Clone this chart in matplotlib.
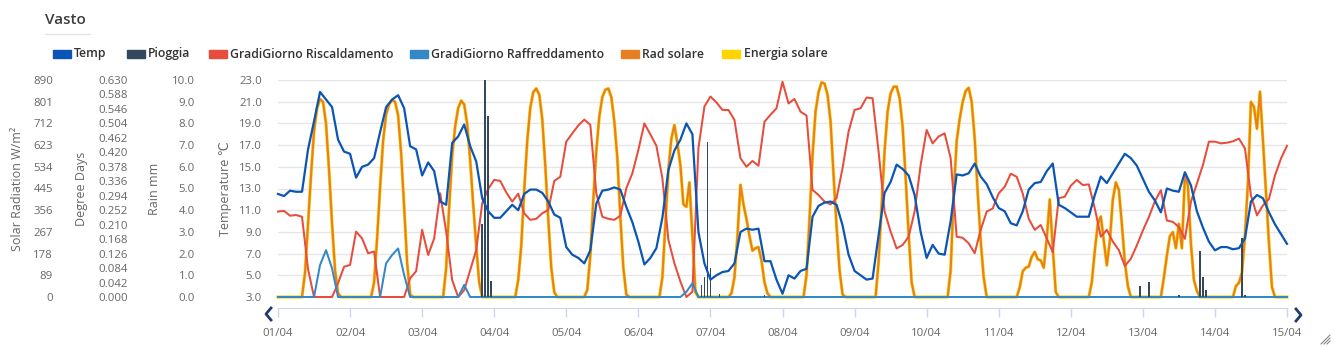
import numpy as np
import matplotlib
matplotlib.use('Agg')
import matplotlib.pyplot as plt
from matplotlib.patches import Rectangle
from matplotlib.lines import Line2D

plt.rcParams['font.family'] = ['Open Sans', 'DejaVu Sans']

# ---------------- data (hours since 01/04 00:00) ----------------
hours = np.arange(0, 337, 2)        # temperature / degree-day readings every 2 h
hours_sol = np.arange(0, 337, 1)    # solar readings every hour
day_labels = ['01/04', '02/04', '03/04', '04/04', '05/04', '06/04', '07/04', '08/04',
              '09/04', '10/04', '11/04', '12/04', '13/04', '14/04', '15/04']

temp = [
    12.5, 12.3, 12.8, 12.7, 12.7, 16.6, 19.2, 21.9, 21.2, 20.5, 17.5, 16.4,
    16.2, 14.0, 15.0, 15.2, 15.8, 18.2, 20.5, 21.2, 21.6, 20.4, 16.9, 16.6,
    14.2, 15.4, 14.6, 11.8, 11.5, 17.2, 17.8, 18.9, 16.9, 15.5, 12.1, 10.9,
    10.3, 10.3, 10.9, 11.5, 11.0, 12.5, 12.9, 12.9, 12.6, 11.8, 10.6, 10.3,
    7.6, 6.9, 6.6, 6.1, 7.3, 11.6, 12.8, 12.9, 13.1, 12.9, 11.3, 9.9,
    8.1, 6.0, 6.6, 7.5, 10.3, 14.7, 16.5, 17.5, 19.0, 18.0, 9.0, 6.1,
    4.6, 5.0, 5.3, 5.4, 6.1, 9.0, 9.3, 9.2, 9.3, 6.3, 6.3, 4.6,
    3.3, 5.0, 4.7, 5.4, 5.6, 10.4, 11.4, 11.7, 11.8, 11.5, 9.6, 6.9,
    5.4, 5.0, 4.6, 4.7, 8.7, 12.6, 13.6, 15.2, 14.8, 14.2, 12.4, 9.0,
    6.6, 7.8, 7.0, 6.9, 10.0, 14.3, 14.2, 14.4, 15.3, 14.1, 13.4, 12.2,
    11.2, 10.9, 9.8, 9.6, 10.9, 12.9, 13.5, 13.6, 14.6, 15.3, 11.5, 11.2,
    10.8, 10.4, 10.4, 10.4, 12.4, 14.1, 13.5, 14.4, 15.3, 16.2, 15.8, 15.1,
    13.9, 12.7, 11.9, 10.8, 13.0, 12.8, 12.7, 14.5, 13.3, 10.9, 9.4, 8.1,
    7.3, 7.6, 7.6, 7.4, 7.5, 8.4, 11.8, 12.4, 12.1, 10.8, 9.7, 8.8,
    7.9,
]

gg_riscaldamento = [
    0.248, 0.250, 0.236, 0.238, 0.233, 0.081, 0, 0, 0, 0, 0.040, 0.088,
    0.093, 0.190, 0.170, 0.127, 0.132, 0, 0, 0, 0, 0, 0.054, 0.075,
    0.195, 0.122, 0.170, 0.301, 0.190, 0.049, 0.0, 0.020, 0.078, 0.136, 0.272, 0.314,
    0.340, 0.337, 0.304, 0.277, 0.300, 0.243, 0.224, 0.227, 0.243, 0.253, 0.337, 0.349,
    0.451, 0.475, 0.498, 0.515, 0.500, 0.301, 0.233, 0.227, 0.224, 0.236, 0.316, 0.359,
    0.427, 0.504, 0.472, 0.439, 0.345, 0.166, 0.098, 0.045, 0.0, 0.015, 0.432, 0.553,
    0.582, 0.565, 0.543, 0.543, 0.514, 0.403, 0.378, 0.395, 0.381, 0.509, 0.529, 0.548,
    0.625, 0.562, 0.575, 0.538, 0.527, 0.311, 0.296, 0.277, 0.269, 0.287, 0.374, 0.480,
    0.543, 0.548, 0.579, 0.577, 0.422, 0.248, 0.190, 0.141, 0.151, 0.175, 0.248, 0.383,
    0.485, 0.446, 0.466, 0.475, 0.403, 0.175, 0.172, 0.156, 0.127, 0.195, 0.248, 0.257,
    0.301, 0.320, 0.358, 0.349, 0.300, 0.227, 0.195, 0.209, 0.170, 0.130, 0.287, 0.291,
    0.323, 0.340, 0.325, 0.327, 0.257, 0.175, 0.195, 0.161, 0.136, 0.090, 0.111, 0.150,
    0.193, 0.232, 0.278, 0.310, 0.222, 0.218, 0.203, 0.169, 0.276, 0.329, 0.383, 0.451,
    0.451, 0.446, 0.448, 0.452, 0.460, 0.431, 0.295, 0.237, 0.266, 0.285, 0.353, 0.402,
    0.439,
]

gg_raffreddamento = [
    0, 0, 0, 0, 0, 0, 0, 0.093, 0.136, 0.083, 0, 0,
    0, 0, 0, 0, 0, 0, 0.098, 0.122, 0.141, 0.064, 0, 0,
    0, 0, 0, 0, 0, 0, 0, 0.035, 0, 0, 0, 0,
    0, 0, 0, 0, 0, 0, 0, 0, 0, 0, 0, 0,
    0, 0, 0, 0, 0, 0, 0, 0, 0, 0, 0, 0,
    0, 0, 0, 0, 0, 0, 0, 0, 0.015, 0.040, 0, 0,
    0, 0, 0, 0, 0, 0, 0, 0, 0, 0, 0, 0,
    0, 0, 0, 0, 0, 0, 0, 0, 0, 0, 0, 0,
    0, 0, 0, 0, 0, 0, 0, 0, 0, 0, 0, 0,
    0, 0, 0, 0, 0, 0, 0, 0, 0, 0, 0, 0,
    0, 0, 0, 0, 0, 0, 0, 0, 0, 0, 0, 0,
    0, 0, 0, 0, 0, 0, 0, 0, 0, 0, 0, 0,
    0, 0, 0, 0, 0, 0, 0, 0, 0, 0, 0, 0,
    0, 0, 0, 0, 0, 0, 0, 0, 0, 0, 0, 0,
    0,
]

# hourly, one row per day (24 values)
rad_solare = [
    0, 0, 0, 0, 0, 0, 0, 0, 0, 100, 300, 500, 680, 775, 812, 800, 710, 520, 300, 110, 15, 0, 0, 0,
    0, 0, 0, 0, 0, 0, 0, 0, 60, 240, 450, 640, 750, 790, 808, 800, 745, 590, 370, 140, 10, 0, 0, 0,
    0, 0, 0, 0, 0, 0, 0, 0, 120, 370, 580, 700, 775, 805, 790, 710, 560, 380, 210, 60, 0, 0, 0, 0,
    0, 0, 0, 0, 0, 0, 0, 0, 70, 210, 440, 640, 775, 840, 855, 830, 730, 540, 320, 120, 20, 0, 0, 0,
    0, 0, 0, 0, 0, 0, 0, 30, 170, 400, 600, 740, 820, 850, 855, 820, 720, 570, 330, 120, 10, 0, 0, 0,
    0, 0, 0, 0, 0, 0, 0, 0, 80, 300, 520, 650, 705, 630, 540, 380, 370, 470, 250, 20, 0, 0, 0, 0,
    0, 0, 0, 0, 0, 0, 0, 15, 80, 250, 460, 380, 320, 250, 190, 200, 205, 150, 60, 15, 0, 0, 0, 0,
    0, 0, 0, 0, 0, 0, 0, 0, 90, 320, 580, 760, 840, 880, 875, 830, 720, 500, 290, 110, 10, 0, 0, 0,
    0, 0, 0, 0, 0, 0, 0, 0, 145, 370, 600, 760, 835, 862, 863, 815, 700, 490, 260, 60, 0, 0, 0, 0,
    0, 0, 0, 0, 0, 0, 0, 0, 110, 420, 640, 730, 800, 845, 858, 800, 650, 430, 230, 80, 0, 0, 0, 0,
    0, 0, 0, 0, 0, 0, 0, 40, 105, 120, 125, 165, 185, 155, 150, 120, 240, 400, 200, 20, 0, 0, 0, 0,
    0, 0, 0, 0, 0, 0, 0, 60, 190, 300, 330, 230, 130, 230, 400, 470, 440, 300, 145, 45, 0, 0, 0, 0,
    0, 0, 0, 0, 0, 0, 0, 80, 170, 250, 266, 200, 300, 200, 499, 458, 220, 70, 25, 0, 0, 0, 0, 0,
    0, 0, 0, 0, 0, 0, 0, 45, 58, 100, 252, 470, 800, 780, 690, 842, 640, 430, 220, 40, 0, 0, 0, 0,
    0,
]

# Energia solare is drawn exactly under Rad solare in the picture
energia_solare = list(rad_solare)

pioggia_ore = [68, 69, 70, 71, 141, 142, 143, 144, 147, 162,
               287, 290, 300, 307, 308, 309, 321, 322]
pioggia_mm = [3.35, 10.0, 8.35, 0.74, 0.55, 0.94, 7.16, 1.32, 0.14, 0.10,
              0.52, 0.71, 0.11, 2.14, 0.94, 0.34, 2.73, 0.11]

temp_ticks = [3.0, 5.0, 7.0, 9.0, 11.0, 13.0, 15.0, 17.0, 19.0, 21.0, 23.0]
rain_ticks = [0.0, 1.0, 2.0, 3.0, 4.0, 5.0, 6.0, 7.0, 8.0, 9.0, 10.0]
dd_ticks = [0.000, 0.042, 0.084, 0.126, 0.168, 0.210, 0.252, 0.294, 0.336,
            0.378, 0.420, 0.462, 0.504, 0.546, 0.588, 0.630]
sol_ticks = [0, 89, 178, 267, 356, 445, 534, 623, 712, 801, 890]

# ---------------- colours ----------------
C_TEMP = '#0b55b5'
C_RAIN = '#34495e'
C_RISC = '#e74c3c'
C_RAFF = '#3488c7'
C_RAD = '#e67e22'
C_EN = '#ffd400'
TICK_C = '#666666'

W, H = 1334, 347
fig = plt.figure(figsize=(W / 100, H / 100), dpi=100)
L, R, B, T = 278, 1287, 297, 80
ax_sol = fig.add_axes([L / W, 1 - B / H, (R - L) / W, (B - T) / H])
ax_dd = ax_sol.twinx()
ax_rain = ax_sol.twinx()
ax_temp = ax_sol.twinx()


def left_axis(a, xpix, lim, ticks, labels):
    a.set_ylim(*lim)
    a.yaxis.set_ticks_position('left')
    a.spines['left'].set_position(('axes', (xpix - L) / (R - L)))
    for name in ('left', 'right', 'top'):
        a.spines[name].set_visible(False)
    a.set_yticks(ticks)
    a.set_yticklabels(labels)
    a.tick_params(axis='y', length=0, pad=0, labelsize=8.2, labelcolor=TICK_C)


left_axis(ax_sol, 53, (0, 890), sol_ticks, ['%d' % v for v in sol_ticks])
left_axis(ax_dd, 128, (0, 0.63), dd_ticks, ['%.3f' % v for v in dd_ticks])
left_axis(ax_rain, 195, (0, 10), rain_ticks, ['%.1f' % v for v in rain_ticks])
left_axis(ax_temp, 262, (3, 23), temp_ticks, ['%.1f' % v for v in temp_ticks])
for a in (ax_dd, ax_rain, ax_temp):
    a.spines['bottom'].set_visible(False)

ax_sol.set_facecolor('none')
ax_sol.set_axisbelow(True)
ax_sol.yaxis.grid(True, color='#e6e6e6', lw=1)
ax_sol.set_xlim(0, 336)
ax_sol.set_xticks(np.arange(0, 337, 24))
ax_sol.set_xticklabels(day_labels)
ax_sol.spines['bottom'].set_position(('outward', 11 * 0.72))
ax_sol.spines['bottom'].set_color('#ccd6eb')
ax_sol.tick_params(axis='x', direction='out', length=6.5, width=1, color='#ccd6eb',
                   pad=8, labelsize=8.2, labelcolor=TICK_C)

# ---------------- series ----------------
ax_sol.plot(hours_sol, energia_solare, color=C_EN, lw=2.3, clip_on=False,
            solid_joinstyle='round', zorder=2)
ax_sol.plot(hours_sol, rad_solare, color=C_RAD, lw=1.45, clip_on=False,
            solid_joinstyle='round', zorder=3)
ax_dd.plot(hours, gg_riscaldamento, color=C_RISC, lw=1.45, clip_on=False,
           solid_joinstyle='round')
ax_dd.plot(hours, gg_raffreddamento, color=C_RAFF, lw=1.45, clip_on=False,
           solid_joinstyle='round')
ax_rain.bar(pioggia_ore, pioggia_mm, width=0.55, color=C_RAIN, clip_on=False)
ax_temp.plot(hours, temp, color=C_TEMP, lw=1.6, clip_on=False,
             solid_joinstyle='round')
ax_temp.set_xlim(0, 336)


def fx(x):
    return x / W


def fy(y):
    return 1 - y / H


# axis titles
for x, txt in [(18, 'Solar Radiation W/m²'), (82, 'Degree Days'),
               (155, 'Rain mm'), (225, 'Temperature ℃')]:
    fig.text(fx(x), fy(188.5), txt, rotation=90, ha='center', va='center',
             fontsize=9, color=TICK_C)

# title
fig.text(fx(45), fy(20), 'Vasto', ha='left', va='center', fontsize=11,
         fontweight='semibold', color='#3d3d3d')
fig.add_artist(Line2D([fx(45), fx(90)], [fy(34), fy(34)], color='#e3e3e3', lw=1))

# legend
legend_items = [(53, 74, C_TEMP, 'Temp'), (127, 148, C_RAIN, 'Pioggia'),
                (209, 230, C_RISC, 'GradiGiorno Riscaldamento'),
                (410, 431, C_RAFF, 'GradiGiorno Raffreddamento'),
                (621, 642, C_RAD, 'Rad solare'), (722, 744, C_EN, 'Energia solare')]
for sx, tx, col, lab in legend_items:
    fig.add_artist(Rectangle((fx(sx), fy(57.5)), 18 / W, 7 / H, color=col,
                             transform=fig.transFigure))
    fig.text(fx(tx), fy(54), lab, ha='left', va='center', fontsize=8.8,
             fontweight='semibold', color='#333333')

# navigation arrows
fig.add_artist(Line2D([fx(271), fx(266), fx(271)], [fy(308), fy(314), fy(320)],
                      color='#1f3d6b', lw=2))
fig.add_artist(Line2D([fx(1296), fx(1301), fx(1296)], [fy(309), fy(315), fy(321)],
                      color='#1f3d6b', lw=2))
# resize grip
for d in (3, 6, 9):
    fig.add_artist(Line2D([fx(1330 - d), fx(1330)], [fy(344), fy(344 - d)],
                          color='#888888', lw=0.8))

fig.savefig('out.png', dpi=100)
